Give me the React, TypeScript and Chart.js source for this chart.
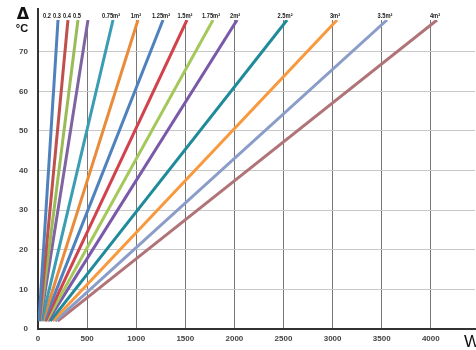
import React, { useEffect, useRef } from "react";
import { Chart, registerables } from "chart.js";

Chart.register(...registerables);

const seriesLabels = ["0.2", "0.3", "0.4", "0.5", "0.75m²", "1m²", "1.25m²", "1.5m²", "1.75m²", "2m²", "2.5m²", "3m²", "3.5m²", "4m²"];
const startPower = [10, 15, 20, 25, 38, 50, 62, 75, 88, 100, 125, 150, 175, 200];
const endPower = [204, 305, 407, 509, 764, 1018, 1273, 1517, 1782, 2027, 2536, 3045, 3554, 4063];
const startDelta = [2, 2, 2, 2, 2, 2, 2, 2, 2, 2, 2, 2, 2, 2];
const endDelta = [78, 78, 78, 78, 78, 78, 78, 78, 78, 78, 78, 78, 78, 78];
const colors = ["#4f81bd", "#c0504d", "#9bbb59", "#8064a2", "#3a9db3", "#e98b3a", "#4f81bd", "#d0434d", "#a5c85a", "#7a5aa8", "#1f8a9a", "#f7993c", "#8a9cc8", "#b07478"];
const xTicks = [0, 500, 1000, 1500, 2000, 2500, 3000, 3500, 4000];
const yTicks = [0, 10, 20, 30, 40, 50, 60, 70];

const decorPlugin = {
  id: "decor",
  afterDraw(chart: any) {
    const ctx = chart.ctx;
    const xs = chart.scales.x;
    const area = chart.chartArea;
    ctx.save();
    // extend y axis line upward
    ctx.strokeStyle = "#333";
    ctx.lineWidth = 2;
    ctx.beginPath();
    ctx.moveTo(area.left, area.top);
    ctx.lineTo(area.left, 8);
    ctx.stroke();
    // series labels (condensed)
    ctx.fillStyle = "#222";
    ctx.font = "bold 7px 'Liberation Sans', Arial, sans-serif";
    ctx.textAlign = "center";
    ctx.textBaseline = "alphabetic";
    seriesLabels.forEach((lab, i) => {
      const px = xs.getPixelForValue(endPower[i]);
      const off = i < 4 ? -11 : -2;
      ctx.save();
      ctx.translate(px + off, 18);
      ctx.scale(0.82, 1);
      ctx.fillText(lab, 0, 0);
      ctx.restore();
    });
    // axis titles
    ctx.fillStyle = "#111";
    ctx.font = "bold 16px 'DejaVu Sans', sans-serif";
    ctx.textAlign = "center";
    ctx.fillText("Δ", 23, 19);
    ctx.font = "bold 11px 'Liberation Sans', Arial, sans-serif";
    ctx.fillText("°C", 22, 32);
    ctx.font = "17px 'Liberation Sans', Arial, sans-serif";
    ctx.textAlign = "left";
    ctx.fillText("W", 464, 347);
    ctx.restore();
  },
};

export default function App() {
  const ref = useRef<HTMLCanvasElement>(null);
  useEffect(() => {
    document.body.style.margin = "0";
    const datasets = seriesLabels.map((lab, i) => ({
      label: lab,
      data: [
        { x: startPower[i], y: startDelta[i] },
        { x: endPower[i], y: endDelta[i] },
      ],
      borderColor: colors[i],
      backgroundColor: colors[i],
      borderWidth: 3,
      pointRadius: 0,
      showLine: true,
      fill: false,
      borderCapStyle: "butt" as const,
    }));
    const chart = new Chart(ref.current!, {
      type: "scatter",
      data: { datasets },
      options: {
        animation: false,
        responsive: false,
        layout: { padding: { top: 20, right: 1, left: 0, bottom: 0 } },
        plugins: { legend: { display: false }, tooltip: { enabled: false } },
        scales: {
          x: {
            type: "linear",
            min: 0,
            max: 4450,
            afterBuildTicks: (s: any) => {
              s.ticks = xTicks.map((v) => ({ value: v }));
            },
            afterFit: (s: any) => {
              s.height = 21;
            },
            grid: { color: "#777", lineWidth: 1, drawTicks: false },
            border: { color: "#333", width: 2 },
            ticks: {
              color: "#444",
              font: { family: "'Liberation Sans', Arial, sans-serif", size: 8, weight: "bold" },
              padding: 5,
              maxRotation: 0,
              autoSkip: false,
              callback: (v: any) => String(v),
            },
          },
          y: {
            type: "linear",
            min: 0,
            max: 78,
            afterBuildTicks: (s: any) => {
              s.ticks = yTicks.map((v) => ({ value: v }));
            },
            afterFit: (s: any) => {
              s.width = 38;
            },
            grid: { color: "#c8c8c8", lineWidth: 1, drawTicks: false },
            border: { color: "#333", width: 2 },
            ticks: {
              color: "#444",
              font: { family: "'Liberation Sans', Arial, sans-serif", size: 8, weight: "bold" },
              padding: 10,
              autoSkip: false,
              callback: (v: any) => String(v),
            },
          },
        },
      },
      plugins: [decorPlugin],
    });
    return () => chart.destroy();
  }, []);
  return <canvas ref={ref} width={476} height={350} style={{ display: "block" }} />;
}
